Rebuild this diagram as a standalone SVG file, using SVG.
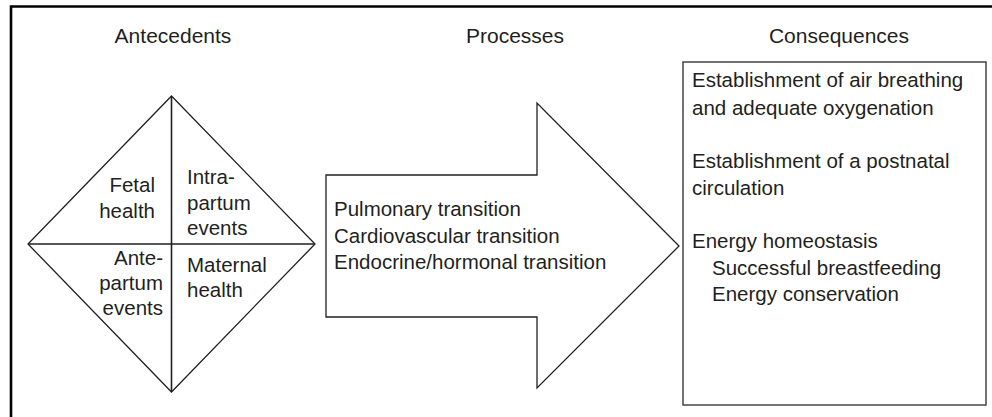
<svg xmlns="http://www.w3.org/2000/svg" width="992" height="417" viewBox="0 0 992 417">
<style>
text{font-family:"Liberation Sans",Arial,sans-serif;fill:#231f20;font-size:20.5px}
.title{font-size:21px}
.shape{fill:#fff;stroke:#231f20;stroke-width:1.3}
.line{stroke:#231f20;stroke-width:1.6;fill:none}
.frame{stroke:#000;stroke-width:2.6;fill:none}
.end{text-anchor:end}
.mid{text-anchor:middle}
</style>
<rect width="992" height="417" fill="#fff"/>
<g id="frame">
<path class="frame" d="M11 417 V6.5 H992"/>
</g>
<g id="titles">
<text class="title mid" x="173" y="43">Antecedents</text>
<text class="title mid" x="515" y="43">Processes</text>
<text class="title mid" x="839" y="43">Consequences</text>
</g>
<g id="antecedents">
<polygon class="shape" points="171.5,96 315,244 171.5,392 28,244"/>
<line class="line" x1="171.5" y1="96" x2="171.5" y2="392"/>
<line class="line" x1="28" y1="244" x2="315" y2="244"/>
<text class="end" x="155" y="192">Fetal</text>
<text class="end" x="155" y="218">health</text>
<text x="187" y="184">Intra-</text>
<text x="187" y="210">partum</text>
<text x="187" y="235">events</text>
<text class="end" x="163" y="265">Ante-</text>
<text class="end" x="163" y="290">partum</text>
<text class="end" x="163" y="315">events</text>
<text x="187" y="272">Maternal</text>
<text x="187" y="297">health</text>
</g>
<g id="processes">
<polygon class="shape" points="326,175 537,175 537,103 679,246 537,388 537,317 326,317"/>
<text x="334" y="216">Pulmonary transition</text>
<text x="334" y="243">Cardiovascular transition</text>
<text x="334" y="269">Endocrine/hormonal transition</text>
</g>
<g id="consequences">
<rect x="683" y="62" width="303" height="343" fill="#fff" stroke="#444" stroke-width="1.5"/>
<text x="692" y="87">Establishment of air breathing</text>
<text x="692" y="115">and adequate oxygenation</text>
<text x="692" y="168">Establishment of a postnatal</text>
<text x="692" y="195">circulation</text>
<text x="692" y="248">Energy homeostasis</text>
<text x="712" y="275">Successful breastfeeding</text>
<text x="712" y="301">Energy conservation</text>
</g>
<g id="connectors"></g>
</svg>
